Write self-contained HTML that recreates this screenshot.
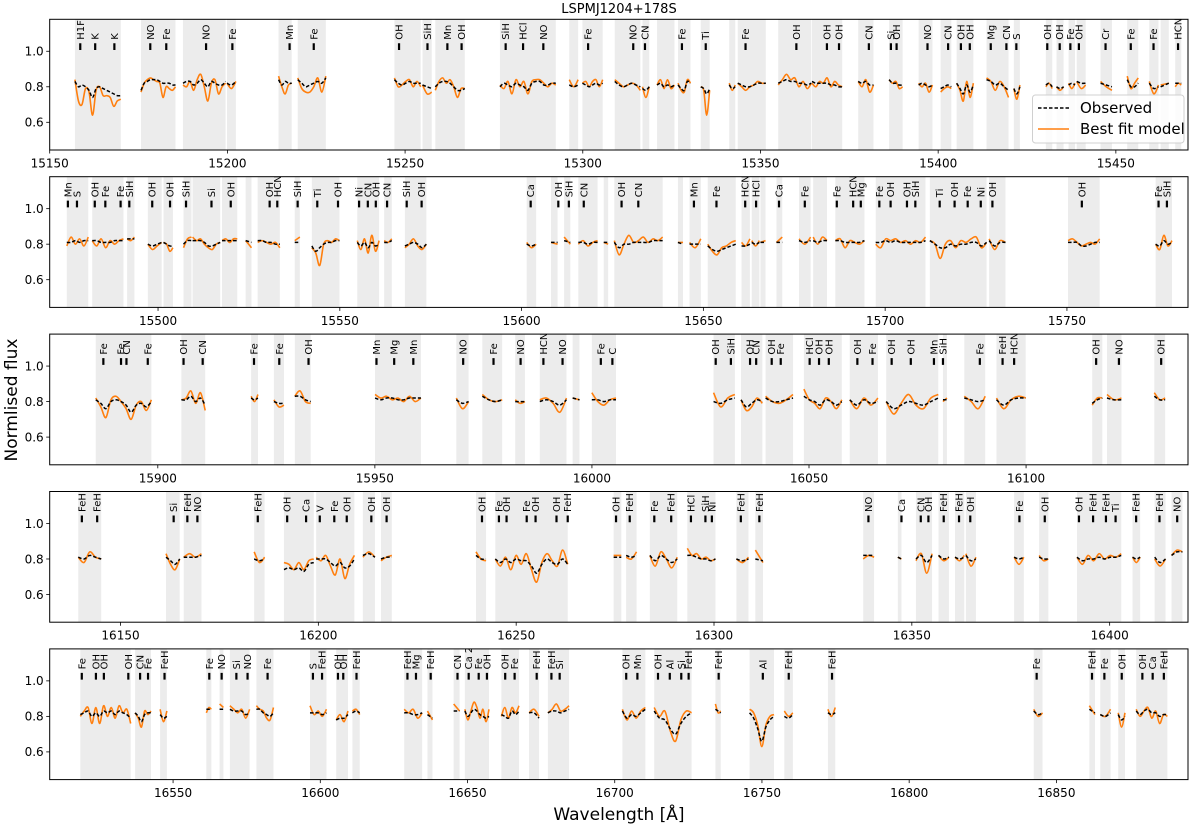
<!DOCTYPE html>
<html><head><meta charset="utf-8"><title>LSPMJ1204+178S spectrum fit</title>
<style>
html,body{margin:0;padding:0;background:#fff;}
svg{display:block;font-family:"DejaVu Sans","Liberation Sans",sans-serif;}
</style></head>
<body>
<svg id="fig" width="1200" height="826" viewBox="0 0 1200 826" xmlns="http://www.w3.org/2000/svg">
<text x="619" y="13" text-anchor="middle" font-size="13">LSPMJ1204+178S</text>
<text transform="translate(17,400) rotate(-90)" text-anchor="middle" font-size="17">Normlised flux</text>
<text x="619" y="820" text-anchor="middle" font-size="17">Wavelength [Å]</text>
</svg>
<script>
// ---------- data ----------
const panelXlims = [[15150,15470.3],[15470.2,15783.3],[15875.1,16137.3],[16132.1,16419.8],[16508.1,16894.7]];
const yTicks = [0.6,0.8,1.0];
const yTickLabels = ["0.6","0.8","1.0"];

const p1Windows = [[15157.1,15170.0],[15175.7,15185.4],[15187.5,15199.5],[15199.9,15202.4],[15214.4,15218.1],[15219.8,15227.7],[15247.0,15254.4],[15254.9,15257.5],[15258.5,15266.8],[15276.7,15292.4],[15296.2,15298.7],[15299.9,15305.6],[15309.0,15316.2],[15316.8,15318.7],[15320.9,15325.8],[15326.8,15330.3],[15333.2,15335.7],[15341.2,15342.9],[15343.6,15351.5],[15355.0,15364.3],[15364.5,15373.0],[15377.5,15381.8],[15386.2,15390.0],[15394.5,15398.4],[15400.7,15403.7],[15405.2,15409.9],[15413.6,15419.8],[15421.3,15423.0],[15430.3,15432.1],[15433.3,15435.3],[15436.7,15438.5],[15439.0,15441.5],[15445.7,15448.9],[15453.2,15456.3],[15459.4,15462.0],[15462.6,15464.9],[15466.7,15468.4]];
const p1Mod = [[0.84,0.72,0.70,0.79,0.77,0.64,0.78,0.80,0.75,0.75,0.74,0.69,0.72,0.73],[0.77,0.82,0.84,0.85,0.84,0.83,0.82,0.74,0.80,0.79,0.78,0.80],[0.81,0.80,0.83,0.78,0.84,0.87,0.80,0.72,0.82,0.84,0.76,0.80,0.82],[0.82,0.79,0.83],[0.86,0.80,0.76,0.81,0.82],[0.85,0.79,0.77,0.77,0.80,0.85,0.77,0.86],[0.85,0.80,0.81,0.83,0.84,0.80,0.83,0.80],[0.81,0.76,0.77],[0.78,0.83,0.85,0.82,0.84,0.80,0.74,0.79,0.79],[0.81,0.79,0.83,0.76,0.84,0.80,0.83,0.76,0.83,0.84,0.84,0.82,0.80,0.82,0.81],[0.84,0.80,0.84],[0.82,0.83,0.80,0.83,0.84,0.80,0.84],[0.84,0.82,0.80,0.81,0.82,0.81,0.78],[0.80,0.74,0.80],[0.81,0.84,0.79,0.84,0.79,0.81],[0.82,0.78,0.77,0.84,0.82],[0.80,0.78,0.64,0.78],[0.82,0.78,0.81],[0.82,0.80,0.78,0.80,0.81,0.83,0.82,0.82],[0.81,0.84,0.87,0.84,0.85,0.80,0.83,0.79,0.82],[0.82,0.80,0.83,0.82,0.85,0.80,0.83,0.81,0.80],[0.83,0.80,0.84,0.77,0.81],[0.84,0.82,0.83,0.79,0.80],[0.82,0.80,0.82,0.77,0.81],[0.77,0.79,0.80,0.79],[0.82,0.78,0.72,0.83,0.74,0.82],[0.85,0.83,0.78,0.83,0.80,0.74],[0.79,0.73,0.81],[0.80,0.82,0.79],[0.80,0.78,0.80],[0.82,0.79,0.82],[0.83,0.79,0.81],[0.83,0.80,0.78],[0.86,0.79,0.82,0.85],[0.83,0.76,0.81],[0.81,0.82],[0.80,0.82,0.81]];
const p1Obs = [[0.83,0.80,0.81,0.80,0.78,0.74,0.79,0.80,0.79,0.78,0.77,0.76,0.75,0.75],[0.78,0.82,0.83,0.84,0.84,0.84,0.83,0.82,0.82,0.82,0.81,0.81],[0.82,0.83,0.83,0.81,0.82,0.84,0.82,0.80,0.83,0.82,0.81,0.81,0.83],[0.82,0.81,0.83],[0.84,0.81,0.83,0.82,0.82],[0.84,0.82,0.80,0.81,0.82,0.83,0.82,0.85],[0.84,0.82,0.81,0.82,0.83,0.82,0.82,0.82],[0.81,0.80,0.79],[0.80,0.82,0.83,0.83,0.82,0.80,0.78,0.78,0.79],[0.80,0.82,0.81,0.80,0.82,0.81,0.80,0.78,0.82,0.83,0.83,0.81,0.81,0.82,0.82],[0.81,0.80,0.81],[0.82,0.81,0.80,0.81,0.82,0.81,0.82],[0.83,0.81,0.80,0.81,0.82,0.81,0.80],[0.79,0.78,0.80],[0.81,0.82,0.80,0.81,0.80,0.81],[0.81,0.79,0.78,0.83,0.82],[0.80,0.79,0.76,0.79],[0.81,0.79,0.80],[0.82,0.81,0.80,0.80,0.81,0.82,0.82,0.82],[0.82,0.83,0.84,0.83,0.83,0.82,0.82,0.81,0.82],[0.83,0.82,0.82,0.82,0.82,0.81,0.81,0.80,0.80],[0.83,0.82,0.83,0.81,0.81],[0.84,0.82,0.82,0.81,0.81],[0.81,0.82,0.81,0.80,0.81],[0.79,0.80,0.81,0.80],[0.82,0.79,0.76,0.81,0.77,0.81],[0.84,0.83,0.81,0.82,0.80,0.78],[0.79,0.76,0.80],[0.81,0.82,0.80],[0.80,0.79,0.80],[0.81,0.82,0.81],[0.83,0.82,0.82],[0.82,0.81,0.80],[0.84,0.80,0.80,0.82],[0.82,0.79,0.80],[0.80,0.82],[0.82,0.82,0.82]];
const p1Labels = [[15158.6,"H1F"],[15162.8,"K"],[15168.2,"K"],[15178.3,"NO"],[15182.8,"Fe"],[15194.0,"NO"],[15201.4,"Fe"],[15217.5,"Mn"],[15224.3,"Fe"],[15248.3,"OH"],[15256.3,"SiH"],[15261.9,"Mn"],[15265.9,"OH"],[15278.3,"SiH"],[15283.2,"HCl"],[15288.9,"NO"],[15301.5,"Fe"],[15314.2,"NO"],[15317.5,"CN"],[15327.9,"Fe"],[15334.6,"Ti"],[15345.8,"Fe"],[15360.1,"OH"],[15368.7,"OH"],[15372.1,"OH"],[15380.5,"CN"],[15386.7,"Si"],[15388.3,"OH"],[15397.0,"NO"],[15402.8,"CN"],[15406.4,"OH"],[15408.9,"OH"],[15414.8,"Mg"],[15419.2,"CN"],[15422.0,"S"],[15430.7,"OH"],[15434.2,"OH"],[15437.2,"Fe"],[15439.6,"OH"],[15447.1,"Cr"],[15454.2,"Fe"],[15460.6,"Fe"],[15467.5,"HCN"]];

const p2Windows = [[15474.9,15480.8],[15481.9,15490.5],[15491.5,15493.5],[15497.2,15501.0],[15501.5,15504.1],[15507.0,15509.2],[15509.5,15517.1],[15517.6,15521.8],[15524.1,15525.7],[15527.4,15533.5],[15537.6,15539.0],[15542.3,15549.9],[15554.8,15560.8],[15562.2,15564.3],[15567.9,15573.8],[15601.4,15604.0],[15608.1,15609.9],[15611.7,15613.4],[15615.6,15620.9],[15622.6,15623.8],[15625.5,15638.8],[15643.0,15644.4],[15646.2,15649.3],[15651.2,15658.9],[15660.5,15662.8],[15663.3,15665.4],[15665.7,15667.1],[15670.1,15671.7],[15676.3,15679.5],[15680.2,15684.0],[15686.3,15694.3],[15697.4,15711.1],[15712.3,15727.9],[15728.6,15733.1],[15750.3,15759.0],[15774.4,15778.9]];
const p2Mod = [[0.79,0.84,0.80,0.83,0.79,0.84],[0.82,0.79,0.83,0.78,0.82,0.80,0.82,0.83],[0.83,0.82,0.84],[0.80,0.77,0.79,0.81],[0.81,0.80,0.76,0.78],[0.78,0.83,0.84],[0.84,0.82,0.83,0.80,0.78,0.77,0.80,0.81],[0.82,0.83,0.81,0.83,0.83],[0.82,0.78],[0.81,0.82,0.81,0.80,0.81,0.78],[0.82,0.84],[0.78,0.75,0.68,0.80,0.82,0.81,0.83,0.82],[0.82,0.77,0.83,0.75,0.85,0.76,0.82],[0.82,0.81,0.83],[0.78,0.80,0.83,0.79,0.77,0.80],[0.81,0.78,0.80],[0.81,0.80],[0.84,0.80],[0.80,0.82,0.79,0.81,0.82],[0.81,0.80],[0.82,0.74,0.80,0.85,0.81,0.82,0.84,0.81,0.83,0.82,0.84],[0.81,0.81],[0.81,0.78,0.83],[0.80,0.76,0.74,0.78,0.79,0.81,0.82],[0.81,0.79,0.83],[0.82,0.79,0.82],[0.81,0.82],[0.81,0.84],[0.83,0.80,0.84],[0.84,0.80,0.84,0.82],[0.82,0.83,0.78,0.82,0.81,0.80,0.82],[0.80,0.78,0.83,0.82,0.83,0.81,0.82,0.80,0.82,0.81,0.84],[0.82,0.80,0.72,0.80,0.82,0.78,0.82,0.81,0.83,0.84,0.78,0.81],[0.83,0.77,0.82,0.81],[0.82,0.83,0.81,0.79,0.80,0.81,0.80,0.83],[0.80,0.77,0.85,0.79,0.82]];
const p2Obs = [[0.81,0.81,0.82,0.81,0.82,0.82],[0.82,0.82,0.81,0.81,0.81,0.82,0.82,0.82],[0.83,0.83,0.83],[0.80,0.79,0.80,0.81],[0.81,0.80,0.79,0.79],[0.80,0.82,0.82],[0.82,0.82,0.82,0.81,0.79,0.79,0.80,0.81],[0.82,0.82,0.82,0.82,0.82],[0.82,0.81],[0.82,0.82,0.81,0.81,0.80,0.80],[0.81,0.81],[0.79,0.76,0.78,0.80,0.81,0.81,0.82,0.82],[0.81,0.79,0.81,0.78,0.81,0.79,0.80],[0.81,0.81,0.82],[0.79,0.80,0.81,0.80,0.78,0.80],[0.80,0.79,0.80],[0.81,0.81],[0.82,0.81],[0.81,0.81,0.80,0.81,0.81],[0.81,0.81],[0.81,0.78,0.80,0.80,0.81,0.81,0.81,0.81,0.82,0.82,0.82],[0.81,0.80],[0.80,0.80,0.80],[0.79,0.77,0.76,0.77,0.78,0.79,0.80],[0.79,0.79,0.80],[0.81,0.80,0.81],[0.81,0.81],[0.81,0.81],[0.82,0.81,0.82],[0.82,0.81,0.82,0.82],[0.82,0.82,0.81,0.81,0.81,0.81,0.82],[0.81,0.81,0.82,0.81,0.82,0.81,0.81,0.81,0.81,0.81,0.82],[0.82,0.80,0.78,0.78,0.80,0.79,0.80,0.80,0.81,0.81,0.79,0.81],[0.82,0.79,0.81,0.81],[0.81,0.81,0.81,0.79,0.79,0.80,0.81,0.81],[0.80,0.79,0.82,0.80,0.81]];
const p2Labels = [[15475.2,"Mn"],[15477.7,"S"],[15482.6,"OH"],[15485.5,"Fe"],[15489.7,"Fe"],[15492.1,"SiH"],[15498.4,"OH"],[15503.3,"OH"],[15507.7,"SiH"],[15514.7,"Si"],[15520.0,"OH"],[15530.7,"OH"],[15532.8,"HCN"],[15538.4,"SiH"],[15543.8,"Ti"],[15549.5,"OH"],[15555.3,"Ni"],[15557.7,"CN"],[15559.9,"OH"],[15563.0,"CN"],[15568.4,"SiH"],[15572.5,"OH"],[15602.5,"Ca"],[15610.1,"OH"],[15613.0,"SiH"],[15617.1,"CN"],[15627.5,"OH"],[15632.1,"CN"],[15647.4,"Mn"],[15653.6,"Fe"],[15661.5,"HCN"],[15664.5,"HCl"],[15670.8,"Ca"],[15677.9,"Fe"],[15686.7,"Fe"],[15691.2,"HCN"],[15693.3,"Mg"],[15698.4,"Fe"],[15701.5,"OH"],[15706.0,"OH"],[15708.3,"SiH"],[15715.0,"Ti"],[15719.1,"OH"],[15722.7,"Fe"],[15726.3,"Ni"],[15729.5,"OH"],[15754.1,"OH"],[15775.2,"Fe"],[15777.5,"SiH"]];

const p3Windows = [[15885.71,15898.52],[15905.43,15910.92],[15921.49,15923.07],[15926.74,15929.07],[15931.56,15935.22],[15950.04,15960.61],[15968.76,15971.59],[15974.75,15979.33],[15982.33,15984.57],[15987.99,15994.14],[15995.56,15997.14],[15999.97,16005.54],[16028.01,16032.92],[16034.34,16039.25],[16040.00,16046.32],[16048.82,16057.56],[16059.39,16065.88],[16067.79,16079.78],[16080.86,16081.77],[16085.77,16090.59],[16093.18,16099.92],[16115.23,16117.56],[16118.64,16121.97],[16129.54,16132.04]];
const p3Mod = [[0.82,0.77,0.71,0.81,0.83,0.80,0.76,0.70,0.78,0.80,0.75,0.81],[0.81,0.82,0.86,0.79,0.85,0.75],[0.83,0.80,0.84],[0.81,0.77,0.78],[0.83,0.86,0.80,0.79],[0.84,0.82,0.83,0.81,0.82,0.80,0.83,0.80,0.82],[0.82,0.76,0.80],[0.84,0.81,0.80,0.81],[0.81,0.79,0.80],[0.81,0.82,0.79,0.74,0.82],[0.82,0.81],[0.85,0.80,0.78,0.81,0.82],[0.85,0.77,0.82,0.84],[0.81,0.75,0.77,0.82,0.79],[0.83,0.80,0.79,0.81,0.84],[0.87,0.81,0.79,0.76,0.82,0.80,0.76,0.81],[0.81,0.76,0.82,0.78,0.82],[0.80,0.73,0.79,0.84,0.78,0.76,0.82,0.84],[0.80,0.82],[0.83,0.80,0.76,0.83],[0.82,0.76,0.81,0.83,0.82],[0.78,0.82,0.82],[0.84,0.81,0.82],[0.85,0.81,0.82]];
const p3Obs = [[0.81,0.79,0.76,0.80,0.81,0.80,0.78,0.74,0.78,0.79,0.77,0.80],[0.81,0.81,0.83,0.80,0.82,0.78],[0.82,0.81,0.82],[0.80,0.79,0.79],[0.83,0.83,0.81,0.80],[0.82,0.81,0.82,0.82,0.81,0.81,0.82,0.82,0.82],[0.81,0.79,0.80],[0.83,0.81,0.80,0.81],[0.80,0.80,0.80],[0.80,0.81,0.80,0.78,0.81],[0.82,0.81],[0.81,0.81,0.80,0.81,0.81],[0.80,0.79,0.81,0.82],[0.81,0.77,0.79,0.81,0.80],[0.82,0.80,0.80,0.81,0.82],[0.83,0.81,0.80,0.78,0.81,0.80,0.78,0.80],[0.81,0.78,0.81,0.79,0.80],[0.80,0.76,0.78,0.80,0.79,0.78,0.80,0.82],[0.81,0.81],[0.82,0.81,0.80,0.81],[0.81,0.78,0.81,0.82,0.82],[0.79,0.81,0.82],[0.82,0.81,0.81],[0.83,0.81,0.81]];
const p3Labels = [[15887.46,"Fe"],[15891.53,"Fe"],[15892.78,"CN"],[15897.69,"Fe"],[15905.93,"OH"],[15910.34,"CN"],[15922.16,"Fe"],[15927.98,"Fe"],[15934.72,"OH"],[15950.37,"Mn"],[15954.45,"Mg"],[15958.86,"Mn"],[15970.34,"NO"],[15977.33,"Fe"],[15983.57,"NO"],[15988.82,"HCN"],[15993.23,"NO"],[16002.05,"Fe"],[16004.71,"C"],[16028.51,"OH"],[16032.01,"SiH"],[16036.42,"OH"],[16037.83,"CN"],[16041.41,"OH"],[16043.49,"Fe"],[16050.15,"HCl"],[16052.31,"OH"],[16054.56,"OH"],[16061.14,"OH"],[16064.63,"Fe"],[16069.04,"OH"],[16073.45,"OH"],[16078.78,"Mn"],[16080.86,"SiH"],[16089.35,"Fe"],[16094.59,"FeH"],[16097.25,"HCN"],[16116.14,"OH"],[16121.39,"NO"],[16131.12,"OH"]];

const p4Windows = [[16139.32,16145.12],[16161.50,16164.96],[16165.97,16170.45],[16183.78,16186.42],[16191.31,16198.84],[16199.45,16209.11],[16211.25,16214.30],[16215.83,16218.57],[16239.84,16242.38],[16244.72,16263.03],[16274.63,16276.57],[16277.79,16280.43],[16283.79,16290.71],[16293.25,16300.37],[16305.66,16308.72],[16310.45,16312.38],[16337.71,16340.46],[16346.46,16347.38],[16351.04,16355.11],[16356.74,16359.38],[16360.91,16363.25],[16363.66,16366.20],[16375.86,16378.31],[16382.17,16384.51],[16391.74,16402.93],[16405.78,16407.71],[16411.37,16414.12],[16415.64,16418.39]];
const p4Mod = [[0.81,0.78,0.84,0.81,0.80],[0.83,0.77,0.74,0.80],[0.81,0.83,0.81,0.83],[0.84,0.78,0.81],[0.78,0.77,0.74,0.78,0.74,0.79,0.80],[0.81,0.79,0.82,0.76,0.71,0.80,0.69,0.77,0.82],[0.81,0.84,0.81],[0.79,0.81,0.82],[0.84,0.80,0.79],[0.80,0.76,0.81,0.74,0.82,0.77,0.83,0.74,0.67,0.78,0.83,0.79,0.76,0.85,0.77],[0.82,0.82],[0.81,0.80,0.84],[0.82,0.76,0.84,0.80,0.75,0.81],[0.86,0.82,0.83,0.80,0.81,0.79,0.80],[0.80,0.78,0.81],[0.85,0.78],[0.80,0.82,0.81],[0.81,0.80],[0.79,0.83,0.72,0.83],[0.82,0.79,0.81],[0.81,0.79,0.82],[0.83,0.76,0.81],[0.81,0.77,0.81],[0.82,0.79,0.80],[0.81,0.77,0.82,0.79,0.83,0.80,0.82,0.81,0.83],[0.81,0.78,0.81],[0.80,0.76,0.80],[0.82,0.85,0.84]];
const p4Obs = [[0.81,0.80,0.82,0.81,0.80],[0.81,0.79,0.77,0.80],[0.81,0.81,0.81,0.82],[0.80,0.79,0.80],[0.74,0.75,0.74,0.75,0.73,0.77,0.78],[0.80,0.80,0.80,0.78,0.76,0.78,0.75,0.76,0.80],[0.82,0.83,0.81],[0.80,0.81,0.81],[0.82,0.80,0.80],[0.80,0.78,0.80,0.78,0.80,0.79,0.79,0.76,0.72,0.77,0.80,0.78,0.77,0.80,0.77],[0.81,0.81],[0.82,0.81,0.82],[0.82,0.79,0.82,0.80,0.78,0.80],[0.82,0.82,0.81,0.80,0.80,0.79,0.80],[0.80,0.79,0.80],[0.80,0.79],[0.82,0.82,0.82],[0.81,0.80],[0.80,0.82,0.78,0.82],[0.82,0.80,0.81],[0.81,0.80,0.81],[0.82,0.79,0.80],[0.81,0.80,0.81],[0.81,0.80,0.80],[0.81,0.79,0.80,0.80,0.81,0.80,0.81,0.81,0.82],[0.81,0.80,0.81],[0.81,0.78,0.80],[0.82,0.84,0.84]];
const p4Labels = [[16140.23,"FeH"],[16144.10,"FeH"],[16163.43,"Si"],[16166.89,"FeH"],[16169.43,"NO"],[16184.69,"FeH"],[16192.12,"OH"],[16196.90,"Ca"],[16200.36,"V"],[16204.03,"Fe"],[16207.18,"OH"],[16213.39,"OH"],[16217.25,"OH"],[16241.36,"OH"],[16245.64,"Fe"],[16247.57,"OH"],[16252.66,"Fe"],[16254.90,"OH"],[16260.19,"OH"],[16263.03,"FeH"],[16275.24,"OH"],[16278.70,"FeH"],[16284.91,"Fe"],[16289.18,"FeH"],[16294.17,"HCl"],[16297.83,"SiH"],[16299.46,"Ni"],[16306.78,"FeH"],[16311.46,"FeH"],[16339.03,"NO"],[16347.38,"Ca"],[16352.26,"CN"],[16354.19,"OH"],[16358.06,"FeH"],[16361.93,"FeH"],[16364.77,"OH"],[16377.19,"Fe"],[16383.60,"OH"],[16392.24,"OH"],[16395.81,"FeH"],[16399.06,"FeH"],[16401.50,"Ti"],[16406.69,"FeH"],[16412.59,"FeH"],[16417.07,"NO"]];

const p5Windows = [[16518.5,16535.6],[16537.1,16542.5],[16545.6,16547.9],[16561.3,16563.0],[16565.8,16567.1],[16569.3,16576.0],[16578.3,16584.1],[16596.5,16602.1],[16605.4,16609.4],[16610.9,16613.4],[16628.5,16634.6],[16636.4,16638.1],[16645.3,16647.3],[16649.1,16657.3],[16661.5,16667.5],[16670.9,16674.3],[16677.3,16684.5],[16702.6,16710.4],[16713.4,16726.1],[16734.2,16736.0],[16745.8,16754.1],[16757.6,16760.5],[16772.4,16774.9],[16842.3,16845.3],[16861.2,16863.1],[16864.9,16868.4],[16871.0,16873.3],[16877.1,16887.7]];
const p5Mod = [[0.80,0.83,0.85,0.76,0.85,0.76,0.86,0.80,0.85,0.79,0.86,0.82,0.84,0.76],[0.82,0.79,0.74,0.83,0.81,0.83],[0.84,0.77,0.83],[0.82,0.85,0.84],[0.87,0.85],[0.86,0.84,0.82,0.84,0.79,0.84],[0.86,0.84,0.83,0.79,0.78,0.85],[0.86,0.81,0.83,0.80,0.84],[0.78,0.81,0.77,0.83],[0.83,0.84,0.81],[0.84,0.82,0.84,0.79,0.82],[0.83,0.78],[0.87,0.83],[0.84,0.78,0.83,0.88,0.85,0.79,0.84,0.77,0.84],[0.80,0.85,0.79,0.85,0.82,0.86],[0.82,0.84,0.80],[0.82,0.84,0.87,0.83,0.84,0.86],[0.84,0.78,0.83,0.79,0.83,0.85],[0.85,0.80,0.83,0.72,0.66,0.78,0.83,0.82],[0.87,0.82,0.83],[0.84,0.82,0.75,0.63,0.75,0.80,0.81],[0.83,0.80,0.82],[0.84,0.80,0.85],[0.84,0.80,0.82],[0.86,0.81],[0.81,0.80,0.84],[0.82,0.74,0.82],[0.84,0.80,0.83,0.85,0.79,0.83,0.76,0.81,0.80]];
const p5Obs = [[0.81,0.82,0.83,0.80,0.82,0.80,0.83,0.82,0.83,0.81,0.83,0.82,0.81,0.79],[0.82,0.80,0.77,0.81,0.82,0.82],[0.81,0.79,0.80],[0.84,0.84,0.84],[0.84,0.84],[0.84,0.83,0.83,0.83,0.81,0.82],[0.84,0.84,0.82,0.81,0.80,0.82],[0.82,0.82,0.82,0.81,0.82],[0.78,0.79,0.79,0.81],[0.82,0.83,0.82],[0.82,0.82,0.81,0.81,0.82],[0.81,0.79],[0.83,0.83],[0.83,0.80,0.82,0.84,0.83,0.81,0.80,0.79,0.80],[0.81,0.80,0.79,0.83,0.81,0.83],[0.82,0.82,0.79],[0.82,0.83,0.83,0.82,0.83,0.84],[0.83,0.79,0.81,0.80,0.82,0.84],[0.83,0.79,0.78,0.73,0.70,0.76,0.80,0.82],[0.84,0.83,0.82],[0.82,0.79,0.73,0.66,0.74,0.78,0.80],[0.80,0.79,0.81],[0.82,0.81,0.82],[0.83,0.81,0.82],[0.84,0.82],[0.81,0.80,0.82],[0.81,0.78,0.80],[0.83,0.81,0.83,0.84,0.82,0.82,0.80,0.81,0.81]];
const p5Labels = [[16519.0,"Fe"],[16523.8,"OH"],[16526.5,"OH"],[16534.8,"OH"],[16538.8,"CN"],[16541.5,"Fe"],[16547.1,"FeH"],[16562.3,"Fe"],[16566.5,"NO"],[16571.5,"Si"],[16575.3,"NO"],[16582.1,"Fe"],[16597.5,"S"],[16600.6,"FeH"],[16606.0,"OH"],[16607.8,"OH"],[16612.3,"FeH"],[16629.6,"FeH"],[16632.5,"Mg"],[16637.5,"FeH"],[16646.6,"CN"],[16650.4,"Ca 2"],[16653.8,"Fe"],[16656.6,"OH"],[16662.8,"OH"],[16666.0,"Fe"],[16673.5,"FeH"],[16678.5,"FeH"],[16681.3,"Si"],[16703.9,"OH"],[16707.7,"Mn"],[16714.7,"OH"],[16718.7,"Al"],[16722.6,"Si"],[16725.1,"FeH"],[16735.3,"FeH"],[16750.3,"Al"],[16759.1,"FeH"],[16773.8,"FeH"],[16843.3,"Fe"],[16862.1,"FeH"],[16866.3,"Fe"],[16872.2,"OH"],[16879.2,"OH"],[16882.7,"Ca"],[16886.5,"FeH"]];

// ---------- rendering ----------
const NS = "http://www.w3.org/2000/svg";
const svg = document.getElementById("fig");
const AX_L = 49.7, AX_R = 1188, AX_W = AX_R - AX_L;
const AX_H = 130.7, TOP0 = 19.3, GAP = 157.4;
const Y0 = 0.444, Y1 = 1.18;
const panels = [
  {w:p1Windows, m:p1Mod, o:p1Obs, l:p1Labels},
  {w:p2Windows, m:p2Mod, o:p2Obs, l:p2Labels},
  {w:p3Windows, m:p3Mod, o:p3Obs, l:p3Labels},
  {w:p4Windows, m:p4Mod, o:p4Obs, l:p4Labels},
  {w:p5Windows, m:p5Mod, o:p5Obs, l:p5Labels}
];
function mk(tag, attrs, parent){
  const e = document.createElementNS(NS, tag);
  for (const k in attrs) e.setAttribute(k, attrs[k]);
  (parent||svg).appendChild(e);
  return e;
}
function smoothPath(pts){
  if (pts.length < 2) return "";
  let d = "M" + pts[0][0].toFixed(2) + "," + pts[0][1].toFixed(2);
  for (let i = 0; i < pts.length - 1; i++){
    const p0 = pts[Math.max(0,i-1)], p1 = pts[i], p2 = pts[i+1], p3 = pts[Math.min(pts.length-1,i+2)];
    const c1x = p1[0] + (p2[0]-p0[0])/6, c1y = p1[1] + (p2[1]-p0[1])/6;
    const c2x = p2[0] - (p3[0]-p1[0])/6, c2y = p2[1] - (p3[1]-p1[1])/6;
    d += " C" + c1x.toFixed(2)+","+c1y.toFixed(2)+" "+c2x.toFixed(2)+","+c2y.toFixed(2)+" "+p2[0].toFixed(2)+","+p2[1].toFixed(2);
  }
  return d;
}

panels.forEach((p, pi) => {
  const [x0, x1] = panelXlims[pi];
  const top = TOP0 + pi*GAP, bot = top + AX_H;
  const xs = wl => AX_L + (wl - x0)/(x1 - x0)*AX_W;
  const ys = f => bot - (f - Y0)/(Y1 - Y0)*AX_H;

  const g = mk("g", {});
  
  
  const clipId = "clip" + pi;
  const cp = mk("clipPath", {id: clipId}, g);
  mk("rect", {x: AX_L, y: top, width: AX_W, height: AX_H}, cp);
  const inner = mk("g", {"clip-path": "url(#" + clipId + ")"}, g);

  p.w.forEach((w, wi) => {
    const r = mk("rect", {x: xs(w[0]), y: top, width: Math.max(0.5, xs(w[1]) - xs(w[0])), height: AX_H, fill: "#ececec"}, inner);
    
    
  });

  p.w.forEach((w, wi) => {
    const build = vals => vals.map((v, i) => [xs(w[0] + (w[1]-w[0]) * (vals.length > 1 ? i/(vals.length-1) : 0)), ys(v)]);
    const mp = mk("path", {d: smoothPath(build(p.m[wi])), fill: "none", stroke: "#ff7f0e", "stroke-width": 1.6, "stroke-linejoin": "round"}, inner);
    
    
    const op = mk("path", {d: smoothPath(build(p.o[wi])), fill: "none", stroke: "#000", "stroke-width": 1.5, "stroke-dasharray": "3.5,2"}, inner);
    
    
  });

  p.l.forEach(lb => {
    const x = xs(lb[0]);
    const tk = mk("line", {x1: x, x2: x, y1: ys(1.007), y2: ys(1.045), stroke: "#000", "stroke-width": 2.2}, inner);
    
    
    const t = mk("text", {transform: "translate(" + (x+3.5).toFixed(2) + "," + (top+20.5) + ") rotate(-90)", "font-size": 10, "text-anchor": "start"}, inner);
    t.textContent = lb[1];
    
    
  });

  const fr = mk("rect", {x: AX_L, y: top, width: AX_W, height: AX_H, fill: "none", stroke: "#000", "stroke-width": 1}, g);
  
  

  yTicks.forEach((v, i) => {
    const y = ys(v);
    mk("line", {x1: AX_L - 3.5, x2: AX_L, y1: y, y2: y, stroke: "#000", "stroke-width": 0.8}, g);
    const t = mk("text", {x: AX_L - 6, y: y + 4.3, "font-size": 12, "text-anchor": "end"}, g);
    t.textContent = yTickLabels[i];
    
    
  });
  for (let v = Math.ceil(x0/50)*50; v <= x1; v += 50){
    const x = xs(v);
    mk("line", {x1: x, x2: x, y1: bot, y2: bot + 3.5, stroke: "#000", "stroke-width": 0.8}, g);
    const t = mk("text", {x: x, y: bot + 17.5, "font-size": 12, "text-anchor": "middle"}, g);
    t.textContent = String(v);
    
    
  }
});

const lg = mk("g", {});


mk("rect", {x: 1032.5, y: 95, width: 151.5, height: 48, rx: 3, fill: "#fff", "fill-opacity": 0.85, stroke: "#d0d0d0", "stroke-width": 1}, lg);
mk("line", {x1: 1038, x2: 1069, y1: 108, y2: 108, stroke: "#000", "stroke-width": 1.5, "stroke-dasharray": "3.5,2"}, lg);
const lt1 = mk("text", {x: 1080, y: 113, "font-size": 15}, lg);
lt1.textContent = "Observed";


mk("line", {x1: 1038, x2: 1069, y1: 129, y2: 129, stroke: "#ff7f0e", "stroke-width": 1.6}, lg);
const lt2 = mk("text", {x: 1080, y: 134, "font-size": 15}, lg);
lt2.textContent = "Best fit model";


</script>
</body></html>
